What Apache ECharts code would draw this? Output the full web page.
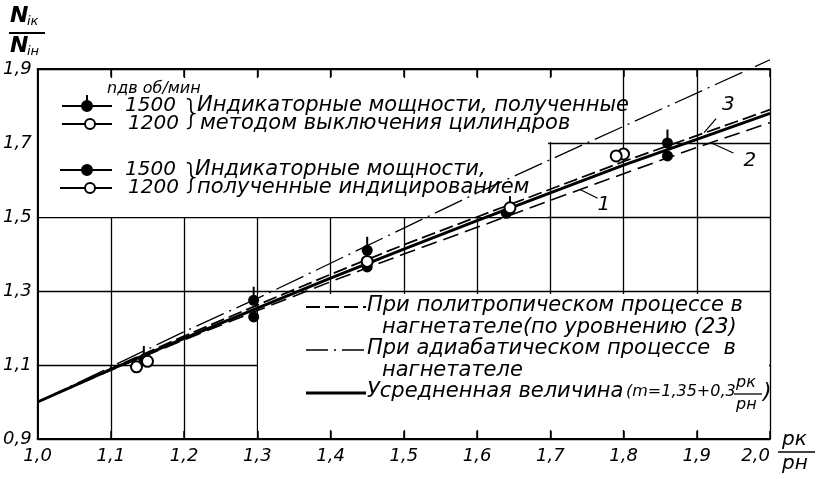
<!DOCTYPE html>
<html>
<head>
<meta charset="utf-8">
<title>Индикаторные мощности</title>
<script src="https://cdn.jsdelivr.net/npm/echarts@6/dist/echarts.min.js"></script>
</head>
<body style="margin:0;background:#fff">
<div id="main" style="width:822px;height:479px;"></div>
<script type="text/javascript">
// pk/pn values where the curves are read
var ratio = [1.0, 1.1, 1.2, 1.3, 1.4, 1.5, 1.6, 1.7, 1.8, 1.9, 2.0];
// curves (Nik/Nin)
var adiabatic = [1.0, 1.095, 1.19, 1.28, 1.375, 1.47, 1.565, 1.655, 1.745, 1.835, 1.925];
var polyUpper = [1.0, 1.09, 1.178, 1.262, 1.345, 1.425, 1.5, 1.575, 1.65, 1.72, 1.79];
var averaged = [1.0, 1.088, 1.172, 1.254, 1.335, 1.413, 1.49, 1.565, 1.64, 1.71, 1.78];
var polyLower = [1.0, 1.086, 1.168, 1.247, 1.325, 1.4, 1.472, 1.545, 1.617, 1.688, 1.755];
// measured points
var cut1500 = [[1.145, 1.115], [1.295, 1.275], [1.45, 1.41], [1.645, 1.52], [1.86, 1.70]];
var cut1200 = [[1.15, 1.11], [1.45, 1.38], [1.645, 1.525], [1.80, 1.67]];
var ind1500 = [[1.295, 1.23], [1.45, 1.365], [1.64, 1.51], [1.86, 1.665]];
var ind1200 = [[1.135, 1.095], [1.79, 1.665]];
// curve number labels: [text, x, y]
var curveNotes = [['1', 1.74, 1.575], ['2', 1.92, 1.70], ['3', 1.91, 1.728]];

var FONT = 'DejaVu Sans';
var dom = document.getElementById('main');
var myChart = echarts.init(dom);

function pairs(ys) {
    return ratio.map(function (x, i) { return [x, ys[i]]; });
}
function comma(v) {
    return v.toFixed(1).replace('.', ',');
}

var txt = function (x, y, s, size, extra) {
    var st = { text: s, x: x, y: y, font: 'italic ' + (size || 21) + 'px "' + FONT + '"', fill: '#000', textVerticalAlign: 'middle' };
    if (extra) for (var k in extra) st[k] = extra[k];
    return { type: 'text', z: 5, style: st };
};
var seg = function (x1, y1, x2, y2, w, dash) {
    return { type: 'line', z: 5, shape: { x1: x1, y1: y1, x2: x2, y2: y2 },
        style: { stroke: '#000', lineWidth: w || 1.5, lineDash: dash || null } };
};
var dot = function (cx, cy, filled) {
    return { type: 'circle', z: 6, shape: { cx: cx, cy: cy, r: 5 },
        style: { fill: filled ? '#000' : '#fff', stroke: '#000', lineWidth: 2 } };
};
var mask = function (x, y, w, h) {
    return { type: 'rect', z: 1, shape: { x: x, y: y, width: w, height: h }, style: { fill: '#fff' } };
};

var filled = { color: '#000', opacity: 1 };
var hollow = { color: '#fff', borderColor: '#000', borderWidth: 2, opacity: 1 };

var option = {
    animation: false,
    backgroundColor: '#fff',
    grid: { left: 37, right: 52, top: 69, bottom: 40 },
    xAxis: [{
        type: 'value', min: 1.0, max: 2.0, interval: 0.1,
        axisLine: { lineStyle: { color: '#000', width: 2 } },
        axisTick: { inside: true, length: 8, lineStyle: { color: '#000', width: 1.5 } },
        axisLabel: { formatter: comma, color: '#000', fontStyle: 'italic', fontFamily: FONT, fontSize: 18, margin: 8, alignMaxLabel: 'right' },
        splitLine: { show: true, lineStyle: { color: '#000', width: 1.3 } }
    }, {
        type: 'value', position: 'top', min: 1.0, max: 2.0, interval: 0.1,
        axisLine: { lineStyle: { color: '#000', width: 2 } },
        axisTick: { inside: true, length: 8, lineStyle: { color: '#000', width: 1.5 } },
        axisLabel: { show: false },
        splitLine: { show: false }
    }],
    yAxis: {
        type: 'value', min: 0.9, max: 1.9, interval: 0.1,
        axisLine: { show: true, lineStyle: { color: '#000', width: 2 } },
        axisTick: { show: false },
        axisLabel: {
            color: '#000', fontStyle: 'italic', fontFamily: FONT, fontSize: 18, margin: 6,
            formatter: function (v) { return Math.round(v * 10) % 2 === 1 ? comma(v) : ''; }
        },
        splitLine: { show: true, lineStyle: { color: ['#000', 'rgba(0,0,0,0)'], width: 1.3 } }
    },
    series: [
        { type: 'line', data: pairs(adiabatic), symbol: 'none', clip: false,
          lineStyle: { color: '#000', width: 1.3, type: [30, 6, 2, 6] } },
        { type: 'line', data: pairs(polyUpper), symbol: 'none',
          lineStyle: { color: '#000', width: 1.8, type: [14, 5] } },
        { type: 'line', data: pairs(averaged), symbol: 'none',
          lineStyle: { color: '#000', width: 3 } },
        { type: 'line', data: pairs(polyLower), symbol: 'none',
          lineStyle: { color: '#000', width: 1.6, type: [16, 7] } },
        { type: 'scatter', data: cut1500, symbol: 'rect', symbolSize: [2, 9], symbolOffset: [0, -9],
          itemStyle: filled, z: 4 },
        { type: 'scatter', data: cut1500, symbol: 'circle', symbolSize: 11, itemStyle: filled, z: 4 },
        { type: 'scatter', data: ind1500, symbol: 'circle', symbolSize: 11, itemStyle: filled, z: 4 },
        { type: 'scatter', data: cut1200, symbol: 'circle', symbolSize: 11, itemStyle: hollow, z: 5 },
        { type: 'scatter', data: ind1200, symbol: 'circle', symbolSize: 11, itemStyle: hollow, z: 5 }
    ]
};
myChart.setOption(option);

var g = [];
// white areas behind the legends
g.push(mask(39, 78, 509, 139));
g.push(mask(545, 78, 8, 64));
g.push(mask(258, 294, 511, 136));

// top-left legend
g.push(txt(107, 89, 'nдв об/мин', 16));
g.push(seg(62, 106, 112, 106, 2)); g.push(dot(87, 106, true)); g.push(seg(87, 95, 87, 106, 2));
g.push(seg(62, 124, 112, 124, 2)); g.push(dot(90, 124, false));
g.push(seg(60, 170, 112, 170, 2)); g.push(dot(87, 170, true));
g.push(seg(60, 188, 112, 188, 2)); g.push(dot(90, 188, false));
g.push(txt(125, 106, '1500', 20)); g.push(txt(128, 124, '1200', 20));
g.push(txt(125, 170, '1500', 20)); g.push(txt(128, 188, '1200', 20));
g.push(txt(181, 115, '}', 34, { font: '300 34px "' + FONT + '"' }));
g.push(txt(181, 179, '}', 34, { font: '300 34px "' + FONT + '"' }));
g.push(txt(197, 106, 'Индикаторные мощности, полученные'));
g.push(txt(200, 124, 'методом выключения цилиндров'));
g.push(txt(195, 170, 'Индикаторные мощности,'));
g.push(txt(197, 188, 'полученные индицированием'));

// bottom-right legend
g.push(seg(306, 307, 366, 307, 2, [14, 5]));
g.push(txt(367, 306, 'При политропическом процессе в'));
g.push(txt(382, 328, 'нагнетателе(по уровнению (23)'));
g.push(seg(306, 350, 366, 350, 1.6, [22, 6, 2, 6]));
g.push(txt(367, 349, 'При адиабатическом процессе  в'));
g.push(txt(382, 371, 'нагнетателе'));
g.push(seg(306, 393, 366, 393, 3));
g.push(txt(367, 392, 'Усредненная величина'));
g.push(txt(626, 392, '(m=1,35+0,3', 16));
g.push(txt(736, 383, 'pк', 16));
g.push(seg(734, 394, 762, 394, 1.3));
g.push(txt(736, 405, 'pн', 16));
g.push(txt(763, 392, ')', 22));

// axis titles
g.push(txt(10, 16, 'N', 22, { font: 'italic bold 22px "' + FONT + '"' }));
g.push(txt(27, 22, 'iк', 13));
g.push(seg(9, 33, 45, 33, 2));
g.push(txt(10, 46, 'N', 22, { font: 'italic bold 22px "' + FONT + '"' }));
g.push(txt(27, 52, 'iн', 13));
g.push(txt(782, 440, 'pк', 20));
g.push(seg(778, 452, 815, 452, 1.5));
g.push(txt(782, 464, 'pн', 20));

// curve numbers with leaders
var offs = { '1': [18, 9, 18, 16], '2': [22, 10, 32, 18], '3': [12, -14, 18, -28] };
curveNotes.forEach(function (n) {
    var p = myChart.convertToPixel({ gridIndex: 0 }, [n[1], n[2]]);
    var o = offs[n[0]];
    g.push(seg(p[0], p[1], p[0] + o[0], p[1] + o[1], 1.2));
    g.push(txt(p[0] + o[2], p[1] + o[3], n[0], 20));
});

myChart.setOption({ graphic: { elements: g } });
</script>
</body>
</html>
